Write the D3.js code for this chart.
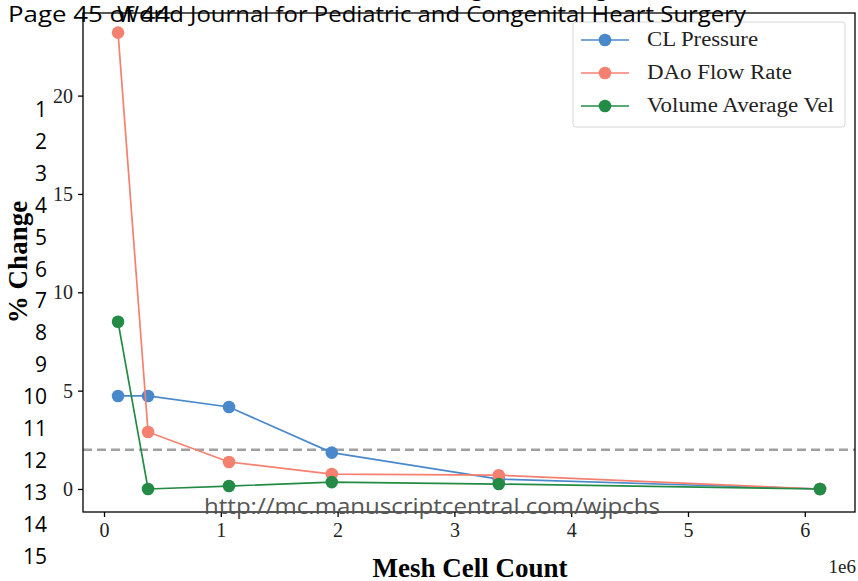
<!DOCTYPE html>
<html><head><meta charset="utf-8">
<script src="https://cdn.jsdelivr.net/npm/d3@7"></script>
<style>body{margin:0;background:#fff}svg{display:block}</style>
</head><body>
<svg id="c" width="858" height="581"></svg>
<script>
const meshCounts = [0.12e6, 0.377e6, 1.07e6, 1.95e6, 3.38e6, 6.13e6];
const clPressure = [4.73, 4.73, 4.17, 1.85, 0.5, 0.0];
const daoFlowRate = [23.2, 2.9, 1.37, 0.76, 0.7, 0.0];
const volAvgVel = [8.5, 0.0, 0.15, 0.35, 0.25, 0.0];
const seriesNames = ["CL Pressure", "DAo Flow Rate", "Volume Average Vel"];
const seriesColors = ["#4a88cc", "#f4806f", "#238b45"];
const xTicks = [0, 1, 2, 3, 4, 5, 6];
const yTicks = [0, 5, 10, 15, 20];
const threshold = 2;
const lineNumbers = d3.range(1, 16);

const svg = d3.select("#c");
const L = 83, R = 855, T = 13, B = 512;
const x = d3.scaleLinear().domain([-0.18e6, 6.43e6]).range([L, R]);
const y = d3.scaleLinear().domain([-1.17, 24.2]).range([B, T]);

// clipped title
svg.append("text").attr("x", 470).attr("y", -4).attr("text-anchor", "middle")
  .attr("font-family", "Liberation Serif").attr("font-weight", "bold").attr("font-size", 24)
  .text("Mesh Convergence Testing");

// threshold
svg.append("line").attr("x1", L).attr("x2", R).attr("y1", y(threshold)).attr("y2", y(threshold))
  .attr("stroke", "#a0a0a0").attr("stroke-width", 2.5).attr("stroke-dasharray", "9,5");

const data = [clPressure, daoFlowRate, volAvgVel];
const line = d3.line().x((d, i) => x(meshCounts[i])).y(d => y(d));
data.forEach((vals, k) => {
  const g = svg.append("g");
  g.append("path").attr("d", line(vals)).attr("fill", "none")
    .attr("stroke", seriesColors[k]).attr("stroke-width", 1.7);
  g.selectAll("circle").data(vals).join("circle")
    .attr("cx", (d, i) => x(meshCounts[i])).attr("cy", d => y(d)).attr("r", 6.3)
    .attr("fill", seriesColors[k]);
});

// frame
svg.append("rect").attr("x", L).attr("y", T).attr("width", R - L).attr("height", B - T)
  .attr("fill", "none").attr("stroke", "#000").attr("stroke-width", 1.3);

const xAxis = svg.append("g").attr("transform", `translate(0,${B})`)
  .call(d3.axisBottom(x).tickValues(xTicks.map(v => v * 1e6)).tickFormat((d, i) => xTicks[i]).tickSize(5).tickPadding(6));
const yAxis = svg.append("g").attr("transform", `translate(${L},0)`)
  .call(d3.axisLeft(y).tickValues(yTicks).tickSize(5).tickPadding(5));
[xAxis, yAxis].forEach(a => {
  a.select(".domain").remove();
  a.selectAll(".tick line").attr("stroke", "#000").attr("stroke-width", 1.3);
  a.selectAll(".tick text").attr("font-family", "Liberation Serif").attr("font-size", 20).attr("fill", "#222");
});

svg.append("text").attr("x", 470).attr("y", 577).attr("text-anchor", "middle")
  .attr("font-family", "Liberation Serif").attr("font-weight", "bold").attr("font-size", 27)
  .text("Mesh Cell Count");
svg.append("text").attr("x", 856).attr("y", 573).attr("text-anchor", "end")
  .attr("font-family", "Liberation Serif").attr("font-size", 19).attr("fill", "#222").text("1e6");
svg.append("text").attr("transform", "translate(27,262) rotate(-90)").attr("text-anchor", "middle")
  .attr("font-family", "Liberation Serif").attr("font-weight", "bold").attr("font-size", 27)
  .text("% Change");

// legend
const lg = svg.append("g");
lg.append("rect").attr("x", 573).attr("y", 22).attr("width", 272).attr("height", 105).attr("rx", 3)
  .attr("fill", "#fff").attr("fill-opacity", 0.85).attr("stroke", "#d6d6d6").attr("stroke-width", 1);
const legendWidths = [111, 145, 187];
seriesNames.forEach((n, k) => {
  const yy = 40 + k * 33;
  lg.append("line").attr("x1", 581).attr("x2", 629).attr("y1", yy).attr("y2", yy)
    .attr("stroke", seriesColors[k]).attr("stroke-width", 1.7);
  lg.append("circle").attr("cx", 605).attr("cy", yy).attr("r", 6.3).attr("fill", seriesColors[k]);
  lg.append("text").attr("x", 647).attr("y", yy + 6).attr("font-family", "Liberation Serif")
    .attr("font-size", 20).attr("fill", "#222")
    .attr("textLength", legendWidths[k]).attr("lengthAdjust", "spacingAndGlyphs").text(n);
});

// page overlays
svg.append("text").attr("x", 8).attr("y", 22).attr("font-family", "Open Sans").attr("font-size", 21)
  .attr("textLength", 162).attr("lengthAdjust", "spacingAndGlyphs").text("Page 45 of 44");
svg.append("text").attr("x", 117).attr("y", 22).attr("font-family", "Open Sans").attr("font-size", 21)
  .attr("textLength", 629).attr("lengthAdjust", "spacingAndGlyphs")
  .text("World Journal for Pediatric and Congenital Heart Surgery");
svg.append("g").selectAll("text").data(lineNumbers).join("text")
  .attr("x", 47).attr("y", d => 117 + (d - 1) * 31.9).attr("text-anchor", "end")
  .attr("font-family", "Open Sans").attr("font-size", 21).text(d => d);
svg.append("text").attr("x", 204).attr("y", 514)
  .attr("font-family", "Open Sans").attr("font-size", 22).attr("fill", "#555")
  .attr("textLength", 456).attr("lengthAdjust", "spacingAndGlyphs")
  .text("http://mc.manuscriptcentral.com/wjpchs");
</script>
</body></html>
